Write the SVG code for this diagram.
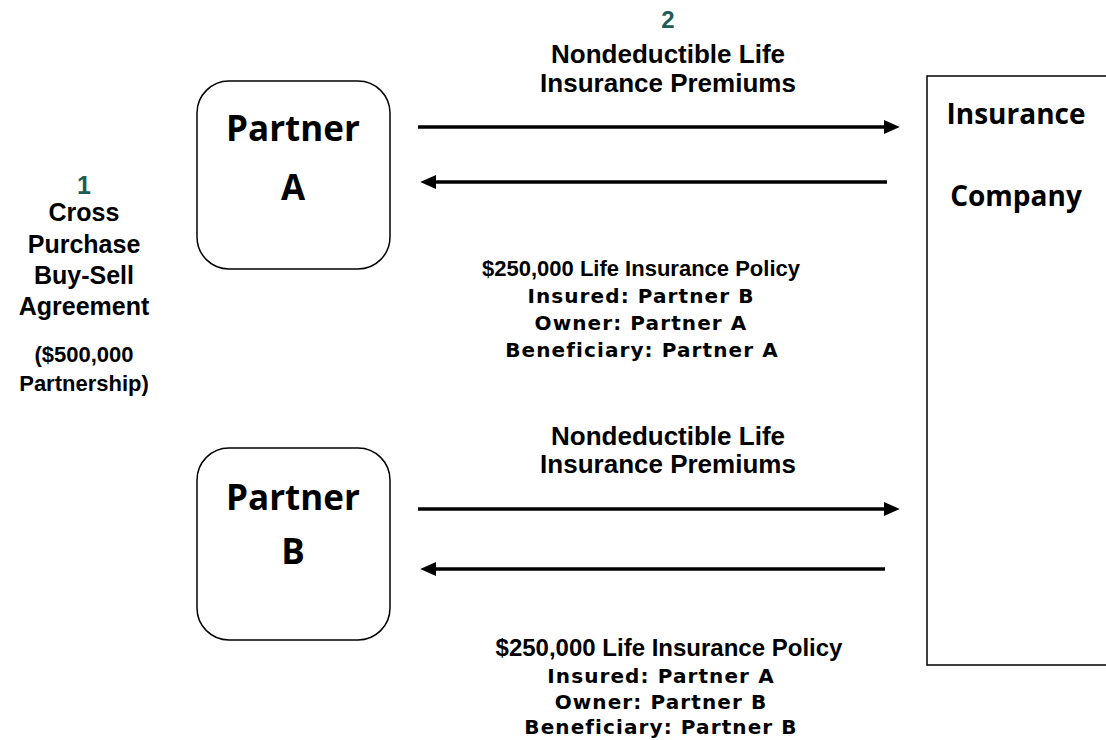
<svg xmlns="http://www.w3.org/2000/svg" width="1106" height="740" viewBox="0 0 1106 740">
<style>
.box{fill:#fff;stroke:#000;stroke-width:1.5}
.ar{font-family:"Liberation Sans",Arial,sans-serif;font-weight:bold;text-anchor:middle;fill:#000}
.vd{font-family:"DejaVu Sans",Verdana,sans-serif;font-weight:bold;text-anchor:middle;fill:#000;font-size:20px;letter-spacing:1.1px}
.cb{font-family:"Open Sans","Liberation Sans",sans-serif;font-weight:bold;text-anchor:middle;fill:#000}
.num{fill:#1d5c57}
.ln{stroke:#000;stroke-width:3.5;fill:none}
</style>
<defs>
<marker id="ah" markerWidth="4.5" markerHeight="4" refX="0" refY="2" orient="auto" markerUnits="strokeWidth">
<path d="M0,0 L4.5,2 L0,4 z" fill="#000"/>
</marker>
</defs>
<rect width="1106" height="740" fill="#fff"/>
<g id="partnerA">
<rect class="box" x="197" y="81" width="193" height="188" rx="32"/>
<text class="cb" x="293" y="141" font-size="35">Partner</text>
<text class="cb" x="293" y="200" font-size="35">A</text>
</g>
<g id="partnerB">
<rect class="box" x="197" y="448" width="193" height="192" rx="32"/>
<text class="cb" x="293" y="510" font-size="35">Partner</text>
<text class="cb" x="293" y="564" font-size="35">B</text>
</g>
<g id="insurance">
<rect class="box" x="927" y="76" width="190" height="589"/>
<text class="cb" x="1016" y="124" font-size="28">Insurance</text>
<text class="cb" x="1016" y="206" font-size="28">Company</text>
</g>
<g id="agreement">
<text class="ar num" x="84" y="194" font-size="25">1</text>
<text class="ar" x="84" y="221" font-size="25">Cross</text>
<text class="ar" x="84" y="253" font-size="25">Purchase</text>
<text class="ar" x="84" y="284" font-size="25">Buy-Sell</text>
<text class="ar" x="84" y="315" font-size="25">Agreement</text>
<text class="ar" x="84" y="362" font-size="22">($500,000</text>
<text class="ar" x="84" y="391" font-size="22">Partnership)</text>
</g>
<g id="connectors">
<line class="ln" x1="418" y1="127" x2="884" y2="127" marker-end="url(#ah)"/>
<line class="ln" x1="887" y1="182" x2="436" y2="182" marker-end="url(#ah)"/>
<line class="ln" x1="418" y1="509" x2="884" y2="509" marker-end="url(#ah)"/>
<line class="ln" x1="885" y1="569" x2="436" y2="569" marker-end="url(#ah)"/>
</g>
<g id="labels">
<text class="ar num" x="668" y="28" font-size="24">2</text>
<text class="ar" x="668" y="63" font-size="26">Nondeductible Life</text>
<text class="ar" x="668" y="92" font-size="26">Insurance Premiums</text>
<text class="ar" x="641" y="276" font-size="22">$250,000 Life Insurance Policy</text>
<text class="vd" x="641" y="303">Insured: Partner B</text>
<text class="vd" x="641" y="330">Owner: Partner A</text>
<text class="vd" x="642" y="357">Beneficiary: Partner A</text>
<text class="ar" x="668" y="445" font-size="26">Nondeductible Life</text>
<text class="ar" x="668" y="473" font-size="26">Insurance Premiums</text>
<text class="ar" x="669" y="656" font-size="24">$250,000 Life Insurance Policy</text>
<text class="vd" x="661" y="683">Insured: Partner A</text>
<text class="vd" x="661" y="709">Owner: Partner B</text>
<text class="vd" x="661" y="734">Beneficiary: Partner B</text>
</g>
</svg>
